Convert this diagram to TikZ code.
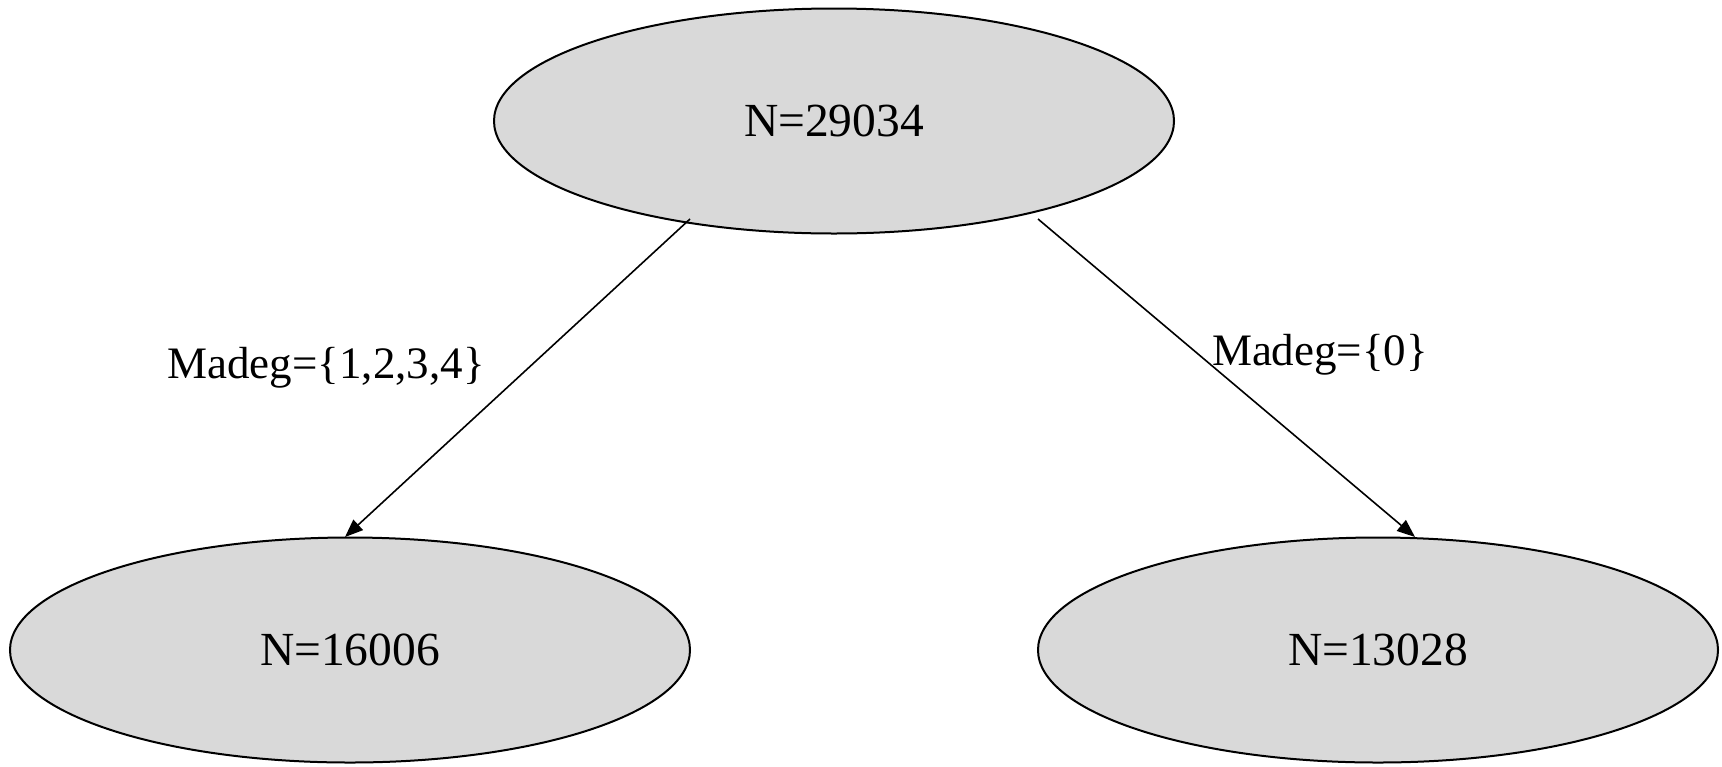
\documentclass[tikz,border=0pt]{standalone}
\usepackage{fontspec}
\setmainfont{Liberation Serif}
\usetikzlibrary{shapes.geometric,arrows.meta}
\definecolor{nodegray}{HTML}{D9D9D9}
\tikzset{
  oval/.style={ellipse, draw=black, line width=1pt, fill=nodegray, minimum width=340pt, minimum height=112.5pt, inner sep=0pt, font=\fontsize{23.75}{28}\selectfont},
  conn/.style={draw=black, line width=0.8pt, -{Triangle[length=9pt,width=7pt]}},
  lbl/.style={inner sep=0pt, font=\fontsize{22.5}{28}\selectfont}
}
\begin{document}
\begin{tikzpicture}[x=0.5pt,y=-0.5pt]
\useasboundingbox (0,0) rectangle (1722,766);
\node[oval] (top) at (834,121) {N=29034};
\node[oval] (bl) at (350,650) {N=16006};
\node[oval] (br) at (1378,650) {N=13028};
\coordinate (s1) at (690,219);
\coordinate (s2) at (1038,219);
\coordinate (e1) at (345,537);
\coordinate (e2) at (1415,537);
\draw[conn] (s1) -- (e1);
\draw[conn] (s2) -- (e2);
\node[lbl] (l1) at (326,368) {Madeg=\{1,2,3,4\}};
\node[lbl] (l2) at (1320,355) {Madeg=\{0\}};
\end{tikzpicture}
\end{document}
